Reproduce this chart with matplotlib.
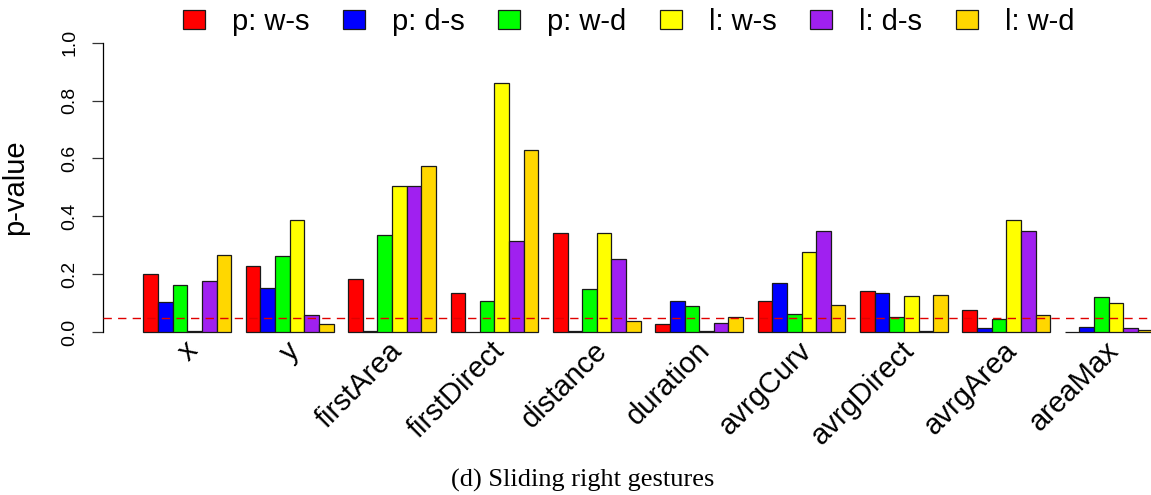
import numpy as np
import matplotlib
matplotlib.use("Agg")
import matplotlib.pyplot as plt
from matplotlib.transforms import ScaledTranslation

plt.rcParams['font.family'] = ['Liberation Sans', 'DejaVu Sans']

features = ['x', 'y', 'firstArea', 'firstDirect', 'distance', 'duration',
            'avrgCurv', 'avrgDirect', 'avrgArea', 'areaMax']
series = ['p: w-s', 'p: d-s', 'p: w-d', 'l: w-s', 'l: d-s', 'l: w-d']
colors = ['#FF0000', '#0000FF', '#00FF00', '#FFFF00', '#A020F0', '#FFD700']

# p-values per feature for each comparison
p_ws = [0.199, 0.229, 0.183, 0.136, 0.341, 0.028, 0.108, 0.141, 0.077, 0.001]
p_ds = [0.105, 0.151, 0.005, 0.001, 0.003, 0.106, 0.168, 0.135, 0.013, 0.017]
p_wd = [0.161, 0.264, 0.336, 0.108, 0.148, 0.090, 0.063, 0.052, 0.044, 0.122]
l_ws = [0.003, 0.387, 0.506, 0.861, 0.343, 0.003, 0.278, 0.124, 0.388, 0.100]
l_ds = [0.175, 0.058, 0.506, 0.313, 0.252, 0.030, 0.349, 0.003, 0.350, 0.013]
l_wd = [0.265, 0.027, 0.573, 0.629, 0.037, 0.053, 0.093, 0.128, 0.058, 0.006]
values = [p_ws, p_ds, p_wd, l_ws, l_ds, l_wd]
alpha = 0.05

fig = plt.figure(figsize=(11.51, 4.95), dpi=100)
ax = fig.add_axes([103 / 1151, 0.306, 1090 / 1151, 0.631])

# grouped bars: one unit wide, one unit gap before every group
n = len(series)
group_left = 1 + (n + 1) * np.arange(len(features))
for i, (vals, col) in enumerate(zip(values, colors)):
    ax.bar(group_left + i, vals, width=1.0, align='edge', color=col,
           edgecolor='#1a1a1a', linewidth=0.9, label=series[i], zorder=2)

ax.axhline(alpha, color='#e00000', linestyle=(0, (6, 4.5)), linewidth=1.0, zorder=3)

ax.set_xlim(-1.76, 72.76)
ax.set_ylim(-0.04, 1.04)

for s in ['top', 'right', 'bottom']:
    ax.spines[s].set_visible(False)
ax.spines['left'].set_bounds(0, 1)
ax.spines['left'].set_linewidth(0.9)

ax.set_yticks(np.arange(0, 1.01, 0.2))
ax.set_yticklabels(['%.1f' % v for v in np.arange(0, 1.01, 0.2)], rotation=90,
                   va='center', fontsize=14)
ax.tick_params(axis='y', length=8, width=0.9, color='#333333', pad=10)
ax.set_ylabel('p-value', fontsize=21)
ax.yaxis.set_label_coords(-0.068, 0.5)

centers = group_left + n / 2
ax.set_xticks(centers)
ax.set_xticklabels(features, rotation=45, ha='right', va='center',
                   rotation_mode='anchor', fontsize=21)
ax.tick_params(axis='x', length=0, pad=2)
for lab in ax.get_xticklabels():
    lab.set_transform(lab.get_transform() + ScaledTranslation(0.06, 0, fig.dpi_scale_trans))

leg = fig.legend(loc='upper left', bbox_to_anchor=(180 / 1151, 1 - 5 / 495), ncol=6,
                 frameon=False, fontsize=21, handlelength=0.75, handleheight=0.62,
                 handletextpad=0.93, columnspacing=1.15, borderaxespad=0.0,
                 borderpad=0.1)

fig.text(583 / 1151, 1 - 480 / 495, '(d) Sliding right gestures', ha='center',
         va='center', fontsize=19, family=['Liberation Serif', 'DejaVu Serif'])

fig.savefig('out.png', dpi=100)
